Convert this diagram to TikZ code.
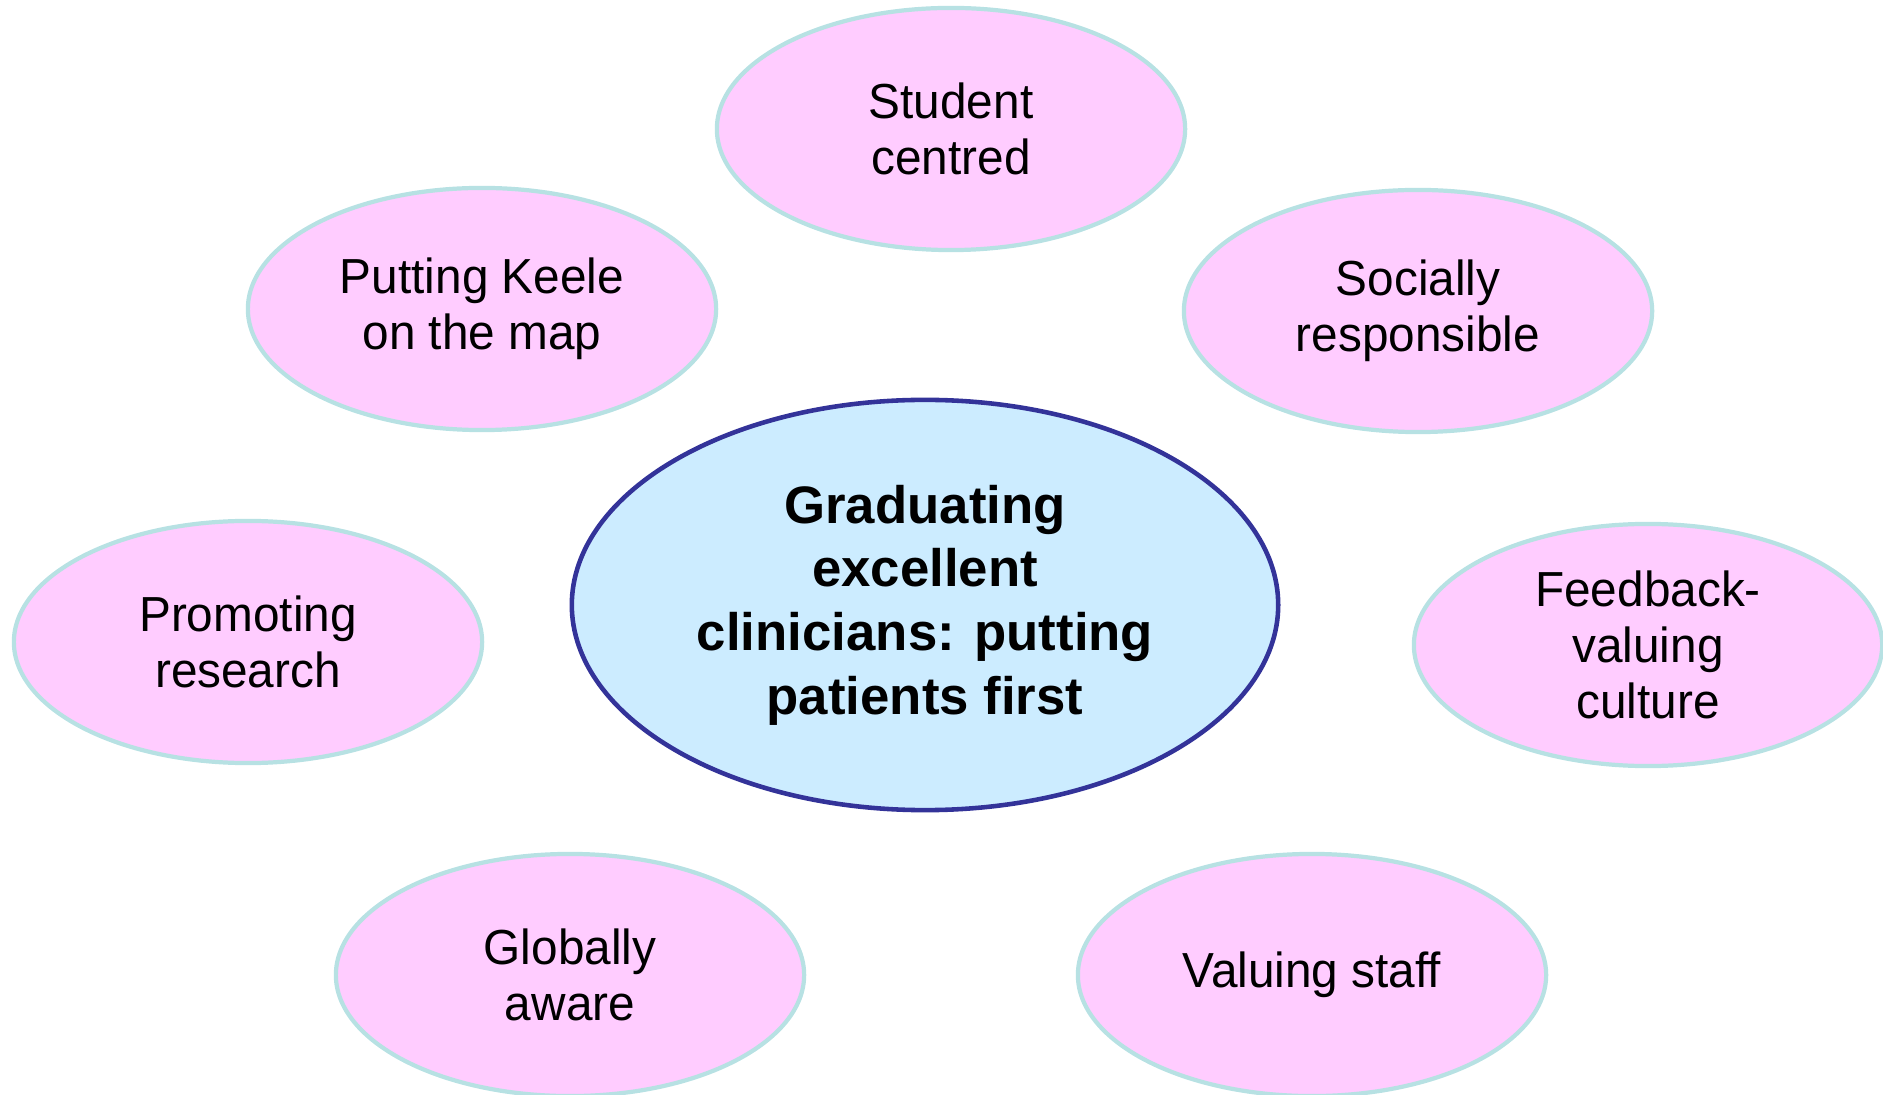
\documentclass[tikz,border=0pt]{standalone}
\usepackage{fontspec}
\setmainfont{Liberation Sans}[FakeStretch=0.97]
\newfontfamily\corefont{Liberation Sans}
\usetikzlibrary{shapes.geometric}
\definecolor{petalpink}{HTML}{FFCCFF}
\definecolor{petalrim}{HTML}{B7E1E3}
\definecolor{corefill}{HTML}{CCECFF}
\definecolor{corerim}{HTML}{333399}
\begin{document}
\begin{tikzpicture}
[x=0.01cm,y=-0.01cm,%
  petaldecorate/.style={shape=ellipse,inner sep=0pt,draw=petalrim,fill=petalpink,
    line width=1.2pt,minimum width=4.68cm,minimum height=2.42cm,align=center,
    font=\fontsize{14}{15.9}\selectfont},%
  coredecorate/.style={shape=ellipse,inner sep=0pt,draw=corerim,fill=corefill,
    line width=1.3pt,minimum width=7.06cm,minimum height=4.1cm,align=center,
    font=\corefont\bfseries\fontsize{15}{18.1}\selectfont}]
\useasboundingbox (0,0) rectangle (1883,1095);
%% central aim
\node (core) at (925,605) [coredecorate]
  {Graduating\\excellent\\clinicians: putting\\patients first};
%% surrounding values
\foreach \nodename/\x/\y/\valtext in {
  student/951/129/{Student\\centred},
  keele/482/309/{Putting Keele\\on the map},
  social/1418/311/{Socially\\responsible},
  research/248/642/{Promoting\\research},
  feedback/1648/645/{Feedback-\\valuing\\culture},
  global/570/975/{Globally\\aware},
  staff/1312/975/{Valuing staff}}
{
  \node (\nodename) at (\x,\y) [petaldecorate] {\valtext};
}
\end{tikzpicture}
\end{document}
